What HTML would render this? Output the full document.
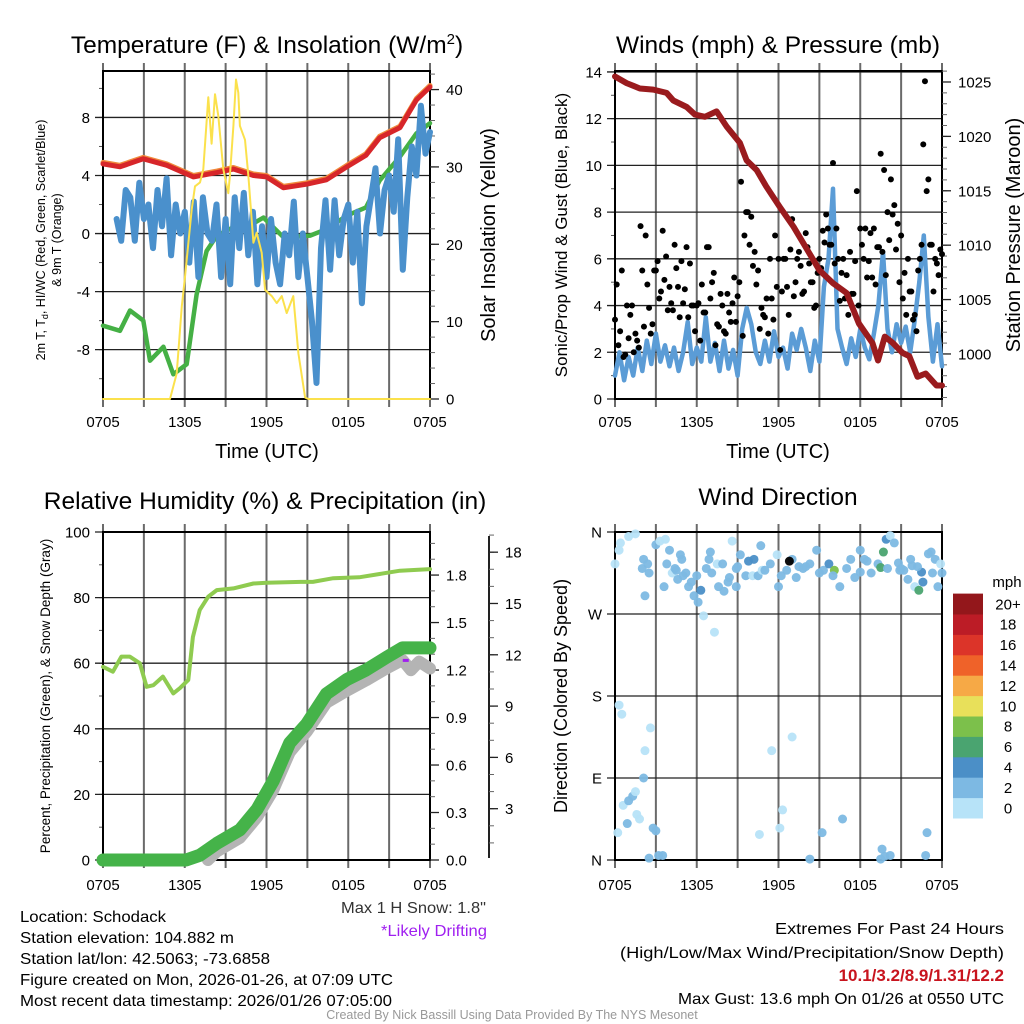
<!DOCTYPE html>
<html><head><meta charset="utf-8"><style>
html,body{margin:0;padding:0;background:#fff;}
svg{display:block;font-family:"Liberation Sans",sans-serif;}
</style></head><body>
<svg id="fig" width="1024" height="1024" viewBox="0 0 1024 1024" xmlns="http://www.w3.org/2000/svg">
<rect x="0" y="0" width="1024" height="1024" fill="#fff"/>
<g font-size="24.5" text-anchor="middle" fill="#000">
<text x="267" y="53">Temperature (F) &amp; Insolation (W/m<tspan dy="-9" font-size="15">2</tspan><tspan dy="9">)</tspan></text>
<text x="778" y="53">Winds (mph) &amp; Pressure (mb)</text>
<text x="265" y="509">Relative Humidity (%) &amp; Precipitation (in)</text>
<text x="778" y="505">Wind Direction</text>
</g>
<g fill="#000" text-anchor="middle">
<text x="267" y="458" font-size="20">Time (UTC)</text>
<text x="778" y="458" font-size="20">Time (UTC)</text>
<text transform="translate(45,240) rotate(-90)" font-size="12.5">2m T, T<tspan font-size="9" dy="3">d</tspan><tspan dy="-3">, HI/WC (Red, Green, Scarlet/Blue)</tspan></text>
<text transform="translate(61,240) rotate(-90)" font-size="12.5">&amp; 9m T (Orange)</text>
<text transform="translate(495,235) rotate(-90)" font-size="20">Solar Insolation (Yellow)</text>
<text transform="translate(567,235) rotate(-90)" font-size="17">Sonic/Prop Wind &amp; Gust (Blue, Black)</text>
<text transform="translate(1020,235) rotate(-90)" font-size="20">Station Pressure (Maroon)</text>
<text transform="translate(50,696) rotate(-90)" font-size="13.5">Percent, Precipitation (Green), &amp; Snow Depth (Gray)</text>
<text transform="translate(567,696) rotate(-90)" font-size="18">Direction (Colored By Speed)</text>
</g>
<g id="layers"></g>
<g font-size="16" fill="#000">
<text x="20" y="922" textLength="146" lengthAdjust="spacingAndGlyphs">Location: Schodack</text>
<text x="20" y="943" textLength="214" lengthAdjust="spacingAndGlyphs">Station elevation: 104.882 m</text>
<text x="20" y="964" textLength="250" lengthAdjust="spacingAndGlyphs">Station lat/lon: 42.5063; -73.6858</text>
<text x="20" y="985" textLength="373" lengthAdjust="spacingAndGlyphs">Figure created on Mon, 2026-01-26, at 07:09 UTC</text>
<text x="20" y="1006" textLength="372" lengthAdjust="spacingAndGlyphs">Most recent data timestamp: 2026/01/26 07:05:00</text>
<text x="486" y="913" text-anchor="end" textLength="145" lengthAdjust="spacingAndGlyphs" fill="#333">Max 1 H Snow: 1.8"</text>
<text x="487" y="936" text-anchor="end" textLength="106" lengthAdjust="spacingAndGlyphs" fill="#a020f0">*Likely Drifting</text>
<text x="1004" y="934" text-anchor="end" textLength="229" lengthAdjust="spacingAndGlyphs">Extremes For Past 24 Hours</text>
<text x="1004" y="958" text-anchor="end" textLength="384" lengthAdjust="spacingAndGlyphs">(High/Low/Max Wind/Precipitation/Snow Depth)</text>
<text x="1004" y="981" text-anchor="end" fill="#c8141e" font-weight="bold" font-size="17">10.1/3.2/8.9/1.31/12.2</text>
<text x="1004" y="1004" text-anchor="end" textLength="326" lengthAdjust="spacingAndGlyphs">Max Gust: 13.6 mph On 01/26 at 0550 UTC</text>
<text x="512" y="1019" text-anchor="middle" font-size="12.5" fill="#999">Created By Nick Bassill Using Data Provided By The NYS Mesonet</text>
</g>
</svg>
<script>
// ---------- data ----------
const xTickLabels = ['0705','','1305','','1905','','0105','','0705'];
// Temperature panel
const tempHours = [0,1.25,2.96,4.68,6.64,8.35,9.57,11.04,12.0,13.24,14.95,16.4,17.9,19.3,20.3,21.8,23.0,24];
const tempVals = [4.8,4.6,5.15,4.7,3.9,4.2,4.45,4.0,3.9,3.15,3.4,3.7,4.6,5.4,6.6,7.3,9.2,10.1];
const dewHours = [0,1.25,1.98,2.96,3.45,4.43,5.16,6.14,6.87,7.6,8.35,9.57,10.55,11.78,13.24,15.2,16.4,17.9,19.3,20.3,21.8,23.0,24];
const dewVals = [-6.35,-6.7,-5.3,-6.0,-8.76,-7.8,-9.7,-9.0,-4.2,-1.2,-0.14,0.43,0.43,1.1,-0.25,-0.14,0.3,1.24,1.8,3.65,5.3,6.9,7.6];
const chillStart = 1.0, chillStep = 1/3;
const chillVals = [1,-0.5,3, 2.5,-0.5,3.5, 1,2,-1, 3,0.5,3.8, -1.5,2,0, 1.5,-2,2.2, -3,2.5,0, -0.5,2,-3, 1,-3.5,2.5, -1,2.8,-1.5, 1.5,-3.5,0.5, -3,1,-2, -3.5,0,-1.5, 2.2,-3,0, -3,-6,-10.3, -1,2.3,-2.5, 2.3,-1.5,1, 2,-2,1.5, -4.8,0.5,2.5, 4.5,0,3, 4,1.5,6.5, -2.5,2.5,6, 4,8.8,5.5, 7];
const solarHours = [0,4.92,5.41,5.78,6.02,6.51,6.75,7.12,7.36,7.73,7.97,8.22,8.46,8.83,9.2,9.32,9.57,9.76,9.93,10.05,10.42,10.67,11.04,11.28,11.65,11.9,12.39,12.75,13.12,13.48,13.97,14.34,14.83,15.07,24];
const solarVals = [0,0,3.3,12,15.8,24.5,27.5,28,29.7,39,33,39.4,36.6,29.7,26.6,29,35.3,41.3,39.6,35.3,33.5,28.8,20.2,21.5,18.9,14.1,13.3,12.4,13.3,11.1,13.3,5.9,0.2,0,0];
// Wind panel
const presHours = [0,0.85,1.83,2.81,3.79,4.28,5.26,5.87,6.6,7.46,8.2,9.17,9.66,10.4,11.1,12.1,13.1,14.1,15.0,16.0,17.0,17.9,18.9,19.3,19.8,20.4,21.1,21.6,22.2,22.8,23.6,24];
const presVals = [1025.5,1024.9,1024.4,1024.3,1024,1023.3,1022.7,1022,1021.8,1022.3,1020.9,1019.4,1017.8,1016.9,1015.4,1013.5,1011.7,1009.6,1007.7,1006.5,1005.6,1002.8,1001.0,999.4,1001.6,1001,1000.1,999.8,997.9,998.2,997.1,997.1];
const windStep = 1/3;
const windVals = [1.0,2.0,0.8, 1.8,1.0,2.2, 1.2,2.5,1.5, 2.8,1.6,2.3, 1.4,2.2,1.2, 2.0,3.3,1.5, 2.2,1.6,3.5, 1.6,2.4,1.2, 2.5,1.3,2.1, 1.0,3.0,3.9, 3.2,2.0,1.5, 2.5,1.6,2.9, 1.8,2.2,1.3, 2.8,2.1,3.0, 2.2,1.2,2.5, 1.6,4.8,6.0, 9.0,3.0,2.2, 1.5,2.6,1.8, 3.0,2.2,1.7, 2.8,4.0,6.3, 3.0,2.0,3.2, 2.4,3.1,2.0, 3.4,5.0,7.0, 3.5,1.6,3.2, 1.4];
const gustStep = 0.25;
const gustA = [3.4,2.3,5.5,1.9, 2.6,4.0,2.8,2.2, 5.5,7.0,3.9,3.2, 5.5,4.3,7.2,6.1, 4.8,3.8,5.6,3.5, 4.1,6.5,5.8,4.0, 4.0,2.5,3.7,6.5, 4.3,5.4,3.2,4.5, 2.9,4.5,3.3,5.2, 4.4,9.3,7.0,8.0, 7.8,6.3,5.5,3.9, 3.5,2.8,4.3,7.0, 6.0,4.6,6.0,3.6, 7.7,5.0,6.3,4.5, 7.1,5.8,5.0,4.0, 6.0,7.2,7.9,6.6, 10.1,7.3,4.2,6.0, 5.3,6.3,4.5,8.9, 7.3,6.0,5.2,7.1, 7.3,6.5,10.5,9.8, 8.0,9.4,8.3,7.5, 7.0,5.4,6.0,4.6, 3.6,5.5,6.6,13.6, 9.4,6.6,6.0,5.3, 6.2];
const gustB = [4.9,2.9,1.8,4.0, 3.6,2.0,2.5,7.4, 3.1,4.9,2.8,5.5, 5.9,4.6,5.1,3.8, 4.1,6.6,4.8,5.9, 4.7,3.5,4.0,2.9, 4.1,4.9,3.7,6.5, 5.0,2.3,3.1,4.0, 2.8,3.7,4.1,3.3, 5.0,2.7,8.0,6.6, 5.7,4.9,3.0,3.6, 4.3,6.0,3.4,4.8, 2.1,6.0,4.8,6.4, 4.4,6.0,5.7,4.6, 6.5,5.0,3.9,5.4, 5.6,6.7,7.3,6.6, 5.8,6.0,5.4,4.3, 3.6,4.5,5.9,4.0, 6.6,7.3,5.9,5.2, 4.9,6.5,6.3,5.3, 6.8,7.9,6.4,5.0, 4.3,3.6,4.6,3.4, 2.9,6.0,10.9,8.9, 6.6,4.6,5.8,6.4];
// Humidity panel
const rhHours = [0,0.73,1.35,1.96,2.7,3.2,3.7,4.4,5.16,5.65,6.26,6.6,7.1,7.73,8.35,9.57,11.04,12,14.5,15.4,16.9,18.8,20.3,21.8,24];
const rhVals = [58.9,57.4,62,62,60,52.8,53.3,55.9,50.8,52.4,54.9,68,76.2,80.3,82.3,82.8,84.3,84.5,84.8,84.8,85.9,86.2,87.2,88.2,88.7];
const precipHours = [0,6.1,7.1,8.35,10.05,11.3,12.5,13.7,14.95,16.4,17.9,19.3,20.8,21.98,24];
const precipVals = [0,0,0.03,0.105,0.19,0.32,0.5,0.74,0.86,1.05,1.14,1.2,1.28,1.34,1.34];
const snowHours = [7.7,8.35,10.05,11.3,12.5,13.7,14.95,16.4,17.9,19.3,20.8,21.98,22.6,23.2,24];
const snowVals = [0,0.5,1.3,2.5,4.1,6.3,7.5,9.2,9.9,10.5,11.2,11.7,11.1,11.6,11.2];
// Wind direction panel
const dirHours = [0,0.3,0.4,1,1.5,0.2,0.3,0.5,0.9,0.6,1.0,1.3,1.5,1.6,2.1,2.2,1.8,2.6,2.8,3.0,2.5,3.2,3.5,2.0,2.1,2.5,2.2,3.0,3.3,3.7,4.0,3.8,4.2,4.5,4.6,5.0,5.4,5.6,5.8,6.0,6.1,6.3,6.5,6.7,6.9,7.1,7.0,7.3,7.5,7.6,8.0,8.3,8.6,8.9,9.2,9.6,9.8,10.2,10.1,10.5,10.8,11.4,11.9,12.0,12.2,12.6,13.0,13.3,13.8,14.3,14.8,15.3,15.7,16.1,16.5,17,17.6,18.0,18.3,18.8,19.3,19.5,19.7,19.9,20.2,20.5,20.8,21.2,21.5,22.0,22.3,22.5,22.6,23.0,23.2,23.5,23.7,24,23.9,19.6,19.8,20.2,19.5,22.9,22.8,11.5,13,12.1,12.3,14.3,15.2,16.7,10.6,4.4,4.9,8.4,9.0,5.2,7.9,11.0,14.0,15.0,17.3,18.5,21.0,21.8,2.4,3.6,4.8,13.5,16.0,18.0,20.0,20.9,21.7,22.2,23.3,8.9,10.7,12.8];
const dirVals = [325,340,348,355,358,30,170,160,40,60,65,70,75,50,90,120,45,145,35,32,2,5,5,320,330,315,290,346,350,352,340,325,315,318,308,312,300,305,290,312,283,296,268,320,330,315,338,250,325,300,295,305,350,320,335,312,328,330,312,312,318,325,335,300,312,318,330,310,320,325,340,318,325,318,300,320,310,340,330,315,325,321,338,352,356,348,326,318,308,300,296,316,305,336,338,330,300,315,325,12,4,5,1,30,5,120,135,35,55,1,30,45,28,320,330,310,322,315,325,318,322,315,330,328,320,323,325,300,335,322,312,316,320,318,330,322,315,300,345,328];
const dirSpd = [1,1,0.5,0.5,0.5,1,0.5,0.5,3,1,3,3,1,1,3,1,1,0.5,3,3,3,3,3,3,3,3,3,3,1,1,3,3,1,3,3,3,3,3,3,3,3,4,0.5,3,3,3,3,0.5,0.5,3,3,3,0.5,3,3,3,4,4,0.5,3,1,3,1,3,3,3,3,3,3,3,3,3,4,8,3,3,3,3,3,3,3,6,6,4,0.5,3,3,3,3,0.5,6,4,4,3,3,3,3,3,1,3,3,3,3,3,3,0.5,0.5,1,1,3,3,3,1,3,3,3,3,3,3,3,3,3,3,3,3,3,3,3,3,3,3,3,3,3,3,3,3,3,3];
const cbLabels = ['0','2','4','6','8','10','12','14','16','18','20+'];
const cbColors = ['#b7e3f8','#7db9e3','#4b8fc7','#4aa470','#7cc04b','#e8e05a','#f6a946','#ef6229','#dc3429','#bc1c26','#93171b'];

// ---------- helpers ----------
const NS = 'http://www.w3.org/2000/svg';
const root = document.getElementById('layers');
function mk(tag, attrs, parent) {
  const e = document.createElementNS(NS, tag);
  for (const k in attrs) e.setAttribute(k, attrs[k]);
  (parent || root).appendChild(e);
  return e;
}
function lin(d0, d1, r0, r1) { return v => r0 + (v - d0) / (d1 - d0) * (r1 - r0); }
const P1 = {x0:103, x1:430, y0:71, y1:399};
const P2 = {x0:615, x1:942, y0:71, y1:399};
const P3 = {x0:103, x1:430, y0:532, y1:860};
const P4 = {x0:615, x1:942, y0:532, y1:860};
function pathFrom(hs, vs, xs, ys) {
  let d = '';
  for (let i = 0; i < vs.length; i++) d += (i ? 'L' : 'M') + xs(hs[i]).toFixed(1) + ',' + ys(vs[i]).toFixed(1);
  return d;
}
function stepHours(start, step, n) { const a = []; for (let i = 0; i < n; i++) a.push(start + i * step); return a; }

function frame(P, name, yTicks, yLab, ys, yMinor, xLabY) {
  const xs = lin(0, 24, P.x0, P.x1);
  const g = mk('g', {});
  
  
  for (let h = 0; h <= 24; h += 3) {
    const x = xs(h);
    const l = mk('line', {x1:x, x2:x, y1:P.y0 - 8, y2:P.y1 + 8, stroke:'#6a6a6a', 'stroke-width':2}, g);
    
    
    const lab = xTickLabels[h / 3];
    if (lab) {
      const t = mk('text', {x:x, y:xLabY, 'text-anchor':'middle', 'font-size':15}, g);
      t.textContent = lab;
      
      
    }
  }
  yMinor.forEach(v => {
    const y = ys(v);
    const l = mk('line', {x1:P.x0 - 4, x2:P.x0, y1:y, y2:y, stroke:'#555', 'stroke-width':1}, g);
    
    
  });
  yTicks.forEach((v, i) => {
    const y = ys(v);
    const l = mk('line', {x1:P.x0 - 8, x2:P.x1, y1:y, y2:y, stroke:'#222', 'stroke-width':1.3}, g);
    
    
    const t = mk('text', {x:P.x0 - 13, y:y + 5.5, 'text-anchor':'end', 'font-size':15}, g);
    t.textContent = yLab[i];
    
    
  });
  const b = mk('rect', {x:P.x0, y:P.y0, width:P.x1 - P.x0, height:P.y1 - P.y0, fill:'none', stroke:'#000', 'stroke-width':2}, g);
  
  
  return xs;
}
function rightAxis(P, name, x, ys, ticks, labs, minor, top, bot) {
  const g = mk('g', {});
  
  
  if (top !== undefined) {
    const a = mk('line', {x1:x, x2:x, y1:top, y2:bot, stroke:'#222', 'stroke-width':2}, g);
    
    
  }
  minor.forEach(v => {
    const y = ys(v);
    const l = mk('line', {x1:x, x2:x + 5, y1:y, y2:y, stroke:'#666', 'stroke-width':1}, g);
    
    
  });
  ticks.forEach((v, i) => {
    const y = ys(v);
    const l = mk('line', {x1:x, x2:x + 9, y1:y, y2:y, stroke:'#222', 'stroke-width':1.3}, g);
    
    
    const t = mk('text', {x:x + 16, y:y + 5.5, 'font-size':15}, g);
    t.textContent = labs[i];
    
    
  });
}
function rng(a, b, s) { const r = []; for (let v = a; v <= b + 1e-9; v += s) r.push(+v.toFixed(4)); return r; }

// ---------- Panel 1: temperature ----------
(function(){
  const yT = lin(-11.4, 11.2, P1.y1, P1.y0);
  const yS = lin(0, 42.4, P1.y1, P1.y0);
  const xs = frame(P1, 'temperature', [-8,-4,0,4,8], ['-8','-4','0','4','8'], yT, rng(-10,10,2), 427);
  rightAxis(P1, 'insolation-axis', P1.x1, yS, [0,10,20,30,40], ['0','10','20','30','40'], rng(0,42,2));
  const g = mk('g', {'stroke-linejoin':'round', 'stroke-linecap':'round', fill:'none'});
  
  
  let e;
  e = mk('path', {d:pathFrom(tempHours, tempVals.map(v => v + 0.1), xs, yT), stroke:'#f08a3c', 'stroke-width':5}, g);
  
  
  e = mk('path', {d:pathFrom(tempHours, tempVals, xs, yT), stroke:'#d7262a', 'stroke-width':5}, g);
  
  
  e = mk('path', {d:pathFrom(dewHours, dewVals, xs, yT), stroke:'#45b045', 'stroke-width':4.5}, g);
  
  
  e = mk('path', {d:pathFrom(stepHours(chillStart, chillStep, chillVals.length), chillVals, xs, yT), stroke:'#4a90cc', 'stroke-width':6}, g);
  
  
  e = mk('path', {d:pathFrom(solarHours, solarVals, xs, yS), stroke:'#fbe14c', 'stroke-width':2}, g);
  
  
})();

// ---------- Panel 2: winds ----------
(function(){
  const yW = lin(0, 14.04, P2.y1, P2.y0);
  const yP = lin(995.86, 1026.01, P2.y1, P2.y0);
  const xs = frame(P2, 'winds', [0,2,4,6,8,10,12,14], ['0','2','4','6','8','10','12','14'], yW, rng(0,14,1), 427);
  rightAxis(P2, 'pressure-axis', P2.x1, yP, [1000,1005,1010,1015,1020,1025], ['1000','1005','1010','1015','1020','1025'], rng(996,1026,1));
  const g = mk('g', {'stroke-linejoin':'round', 'stroke-linecap':'round', fill:'none'});
  
  
  let e = mk('path', {d:pathFrom(stepHours(0, windStep, windVals.length), windVals, xs, yW), stroke:'#5b9cd6', 'stroke-width':4.5}, g);
  
  
  const dots = mk('g', {fill:'#000'}, g);
  
  
  gustA.forEach((v, i) => {
    const c = mk('circle', {cx:xs(i * gustStep), cy:yW(v), r:3}, dots);
    
    
  });
  gustB.forEach((v, i) => {
    const c = mk('circle', {cx:xs(i * gustStep + gustStep / 2), cy:yW(v), r:3}, dots);
    
    
  });
  e = mk('path', {d:pathFrom(presHours, presVals, xs, yP), stroke:'#9a1b1e', 'stroke-width':6}, g);
  
  
})();

// ---------- Panel 3: humidity ----------
(function(){
  const yR = lin(0, 100, P3.y1, P3.y0);
  const yPr = lin(0, 2.072, P3.y1, P3.y0);
  const ySn = lin(0, 19.18, P3.y1, P3.y0);
  const xs = frame(P3, 'humidity', [0,20,40,60,80,100], ['0','20','40','60','80','100'], yR, rng(0,100,10), 890);
  rightAxis(P3, 'precip-axis', P3.x1, yPr, [0,0.3,0.6,0.9,1.2,1.5,1.8], ['0.0','0.3','0.6','0.9','1.2','1.5','1.8'], rng(0,2.0,0.1));
  rightAxis(P3, 'snow-axis', 489, ySn, [3,6,9,12,15,18], ['3','6','9','12','15','18'], rng(1,19,1), P3.y0 + 4, P3.y1 - 2);
  const g = mk('g', {'stroke-linejoin':'round', 'stroke-linecap':'round', fill:'none'});
  
  
  let e = mk('path', {d:pathFrom(snowHours, snowVals, xs, ySn), stroke:'#b4b4b4', 'stroke-width':12}, g);
  
  
  e = mk('path', {d:pathFrom(precipHours, precipVals, xs, yPr), stroke:'#45b349', 'stroke-width':13}, g);
  
  
  e = mk('path', {d:pathFrom(rhHours, rhVals, xs, yR), stroke:'#8fcb50', 'stroke-width':4}, g);
  
  
  e = mk('rect', {x:xs(22.0), y:ySn(11.7) - 1, width:6, height:3, fill:'#a020f0', stroke:'none'}, g);
  
  
})();

// ---------- Panel 4: wind direction ----------
(function(){
  const yD = lin(0, 360, P4.y1, P4.y0);
  const xs = frame(P4, 'direction', [0,90,180,270,360], ['N','E','S','W','N'], yD, [], 890);
  const g = mk('g', {});
  
  
  dirVals.forEach((d, i) => {
    const idx = Math.min(10, Math.floor(dirSpd[i] / 2));
    const c = mk('circle', {cx:xs(dirHours[i]), cy:yD(d), r:4.5, fill:cbColors[idx], 'fill-opacity':0.95}, g);
    
    
  });
  const cb = mk('g', {});
  
  
  const h = 20.4;
  cbColors.forEach((col, i) => {
    const y = 818 - (i + 1) * h;
    const r = mk('rect', {x:953, y:y, width:30, height:h + 0.5, fill:col}, cb);
    
    
    const t = mk('text', {x:1008, y:y + h / 2 + 5.5, 'text-anchor':'middle', 'font-size':15}, cb);
    t.textContent = cbLabels[i];
    
    
  });
  const u = mk('text', {x:1007, y:587, 'text-anchor':'middle', 'font-size':15}, cb);
  u.textContent = 'mph';
  
  
})();
</script>
</body></html>
